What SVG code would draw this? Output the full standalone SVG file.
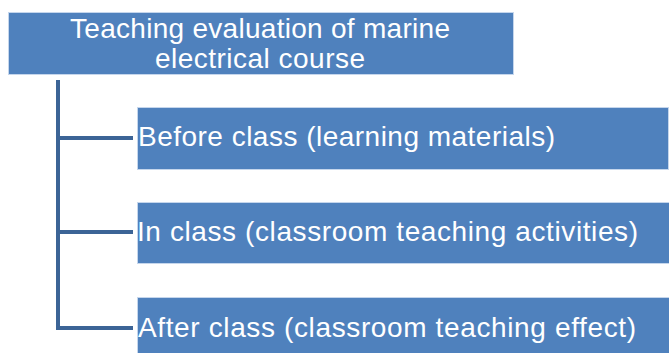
<svg xmlns="http://www.w3.org/2000/svg" width="669" height="353" viewBox="0 0 669 353">
  <style>
    .box { fill: #4f81bd; stroke: #c5d6ec; stroke-width: 1; }
    .label { font-family: "Liberation Sans", Arial, sans-serif; font-size: 28px; fill: #ffffff; }
    .link { fill: none; stroke: #3c6496; stroke-width: 4; stroke-linecap: butt; }
  </style>
  <rect width="669" height="353" fill="#ffffff"/>

  <!-- tree connectors -->
  <g id="connectors">
    <path class="link" d="M58 80 V329"/>
    <path class="link" d="M56 138 H133"/>
    <path class="link" d="M56 232 H133"/>
    <path class="link" d="M56 328 H133"/>
  </g>

  <g id="root">
    <rect class="box" x="8.5" y="12.5" width="505" height="62"/>
    <text class="label" x="260" y="38" text-anchor="middle" textLength="380" lengthAdjust="spacing">Teaching evaluation of marine</text>
    <text class="label" x="260" y="68" text-anchor="middle" textLength="210" lengthAdjust="spacing">electrical course</text>
  </g>

  <g id="before-class">
    <rect class="box" x="137.5" y="107.5" width="531" height="62"/>
    <text class="label" x="138" y="146" textLength="417" lengthAdjust="spacing">Before class (learning materials)</text>
  </g>

  <g id="in-class">
    <rect class="box" x="137.5" y="202.5" width="535" height="61"/>
    <text class="label" x="137" y="241" textLength="501" lengthAdjust="spacing">In class (classroom teaching activities)</text>
  </g>

  <g id="after-class">
    <rect class="box" x="137.5" y="297.5" width="535" height="64"/>
    <text class="label" x="138" y="337" textLength="498" lengthAdjust="spacing">After class (classroom teaching effect)</text>
  </g>
</svg>
